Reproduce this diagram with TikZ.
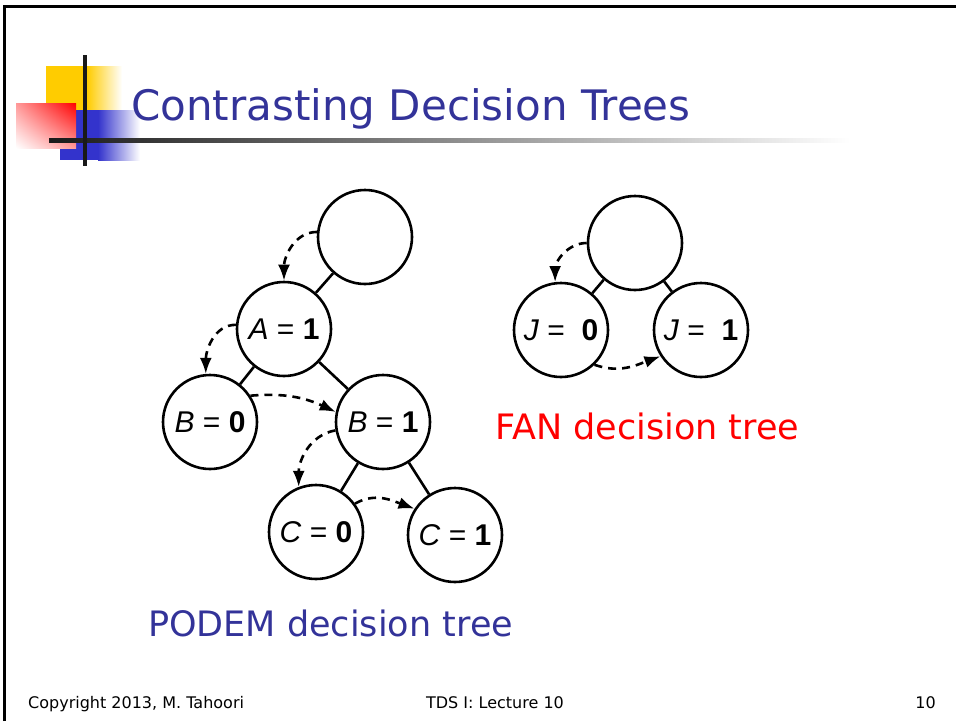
\documentclass[tikz,border=0pt]{standalone}
\usepackage{fontspec}
\setmainfont{DejaVu Sans}
\newfontfamily\nodefont{Liberation Sans}
\usetikzlibrary{arrows.meta, shadings}

\definecolor{titleblue}{RGB}{51,51,153}
\definecolor{logoyellow}{RGB}{255,204,0}
\definecolor{logoblue}{RGB}{51,51,204}

\begin{document}
\begin{tikzpicture}[x=1pt, y=1pt,
    every node/.style={inner sep=0pt},
    state/.style={draw, circle, line width=2.6pt, minimum size=94pt,
      font=\nodefont\fontsize{30}{30}\selectfont},
    branch/.style={line width=2.6pt},
    guess/.style={-{Latex[length=16pt,width=12pt]}, line width=2.6pt,
      dash pattern=on 8pt off 6pt}]

    \useasboundingbox (0,0) rectangle (956,-721);

    % slide frame
    \draw [line width=3pt] (4,-721) -- (4,-6) -- (956,-6);

    % logo
    \fill [logoyellow] (46,-66) rectangle (87,-110);
    \shade [left color=logoyellow, right color=white] (87,-66) rectangle (122,-110);
    \fill [logoblue] (60,-110) rectangle (98,-160);
    \shade [left color=logoblue, right color=white] (98,-110) rectangle (140,-160);
    \shade [upper right=red, lower left=white, upper left=red!40, lower right=red!40]
      (16,-103) rectangle (76,-148);
    \shade [left color=black!90, right color=white] (49,-138) rectangle (850,-142);
    \fill [black!90] (83,-55) rectangle (87,-166);

    \node [anchor=base west, text=titleblue, font=\fontsize{42}{42}\selectfont]
      (title) at (131,-120) {Contrasting Decision Trees};

    % PODEM tree
    \node [state] (root) at (365,-237) {};
    \node [state] (a1) at (284,-329) {\textit{A} = \textbf{1}};
    \node [state] (b0) at (210,-422) {\textit{B} = \textbf{0}};
    \node [state] (b1) at (383,-422) {\textit{B} = \textbf{1}};
    \node [state] (c0) at (316,-532) {\textit{C} = \textbf{0}};
    \node [state] (c1) at (455,-535) {\textit{C} = \textbf{1}};

    \draw [branch] (root) -- (a1);
    \draw [branch] (a1) -- (b0);
    \draw [branch] (a1) -- (b1);
    \draw [branch] (b1) -- (c0);
    \draw [branch] (b1) -- (c1);

    \draw [guess] (root.174) to [out=180, in=90] (a1.north);
    \draw [guess] (a1.175) to [out=180, in=90] (b0.95);
    \draw [guess] (b0.33) to [out=5, in=155] (b1.168);
    \draw [guess] (b1.190) to [out=190, in=90] (c0.111);
    \draw [guess] (c0.36) to [out=30, in=160] (c1.147);

    % FAN tree
    \node [state] (froot) at (635,-243) {};
    \node [state] (j0) at (561,-330) {\textit{J} = \ \textbf{0}};
    \node [state] (j1) at (701,-330) {\textit{J} = \ \textbf{1}};

    \draw [branch] (froot) -- (j0);
    \draw [branch] (froot) -- (j1);

    \draw [guess] (froot.180) to [out=180, in=90] (j0.97);
    \draw [guess] (j0.-46) to [out=-20, in=200] (j1.213);

    % captions
    \node [anchor=base west, text=red, font=\fontsize{35}{35}\selectfont]
      (fancap) at (495,-439) {FAN decision tree};
    \node [anchor=base west, text=titleblue, font=\fontsize{35}{35}\selectfont]
      (podemcap) at (148,-636) {PODEM decision tree};

    % footer
    \node [anchor=base west, font=\fontsize{16}{16}\selectfont]
      (copy) at (28,-708) {Copyright 2013, M. Tahoori};
    \node [anchor=base, font=\fontsize{16}{16}\selectfont]
      (lecture) at (495,-708) {TDS I: Lecture 10};
    \node [anchor=base east, font=\fontsize{16}{16}\selectfont]
      (page) at (936,-708) {10};
\end{tikzpicture}
\end{document}
